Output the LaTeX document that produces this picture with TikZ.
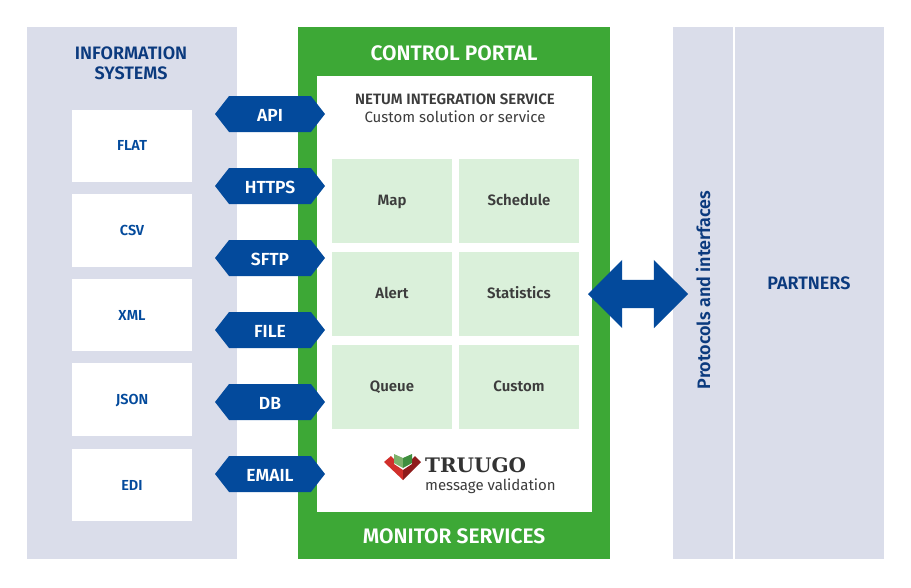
\documentclass[tikz,border=0pt]{standalone}
\usepackage{fontspec}
\setmainfont{Fira Sans}[BoldFont={Fira Sans SemiBold}]
\newfontfamily\logofont{DejaVu Serif}
\usetikzlibrary{shapes.symbols,shapes.arrows}
\definecolor{panelgray}{HTML}{DADDEA}
\definecolor{portalgreen}{HTML}{3DA836}
\definecolor{cellgreen}{HTML}{DAF0DA}
\definecolor{tagblue}{HTML}{034A9C}
\definecolor{titleblue}{HTML}{0B3A7E}
\definecolor{celltext}{HTML}{3C3C3C}
\definecolor{logored}{HTML}{D12F2B}
\definecolor{logodark}{HTML}{8F1C1C}
\definecolor{pagelight}{HTML}{7DB26B}
\definecolor{pagedark}{HTML}{3F8F3F}
\tikzset{
    panel/.style={fill=panelgray,anchor=north west,inner sep=0},
    filebox/.style={fill=white,minimum width=120pt,inner sep=0,text=tagblue,text height=10pt,text depth=0pt,
        font=\fontsize{14.5}{16}\selectfont\bfseries},
    cell/.style={fill=cellgreen,minimum width=120pt,minimum height=84pt,inner sep=0,text=celltext,
        text height=9pt,text depth=0pt,font=\fontsize{15}{17}\selectfont\bfseries},
    tag/.style={signal,signal to=east and west,signal pointer angle=104,fill=tagblue,text=white,
        minimum width=110pt,minimum height=36pt,inner sep=0,text height=14pt,text depth=0pt,
        font=\fontsize{17.5}{20}\selectfont\bfseries},
    titletext/.style={text=titleblue,font=\fontsize{18}{21}\selectfont\bfseries,align=center},
    portaltext/.style={text=white,font=\fontsize{21}{24}\selectfont\bfseries}
}
\begin{document}
\begin{tikzpicture}[x=1pt,y=-1pt]
    \useasboundingbox (0,0) rectangle (911,587);

    % left column
    \node[panel,minimum width=210pt,minimum height=532pt] (systems) at (27,27) {};
    \node[titletext] (systemstitle) at (131,63) {INFORMATION\\[-1pt]SYSTEMS};
    \node[filebox,minimum height=72pt] (flat) at (132,145.5) {FLAT};
    \node[filebox,minimum height=73pt] (csv) at (132,230.5) {CSV};
    \node[filebox,minimum height=72pt] (xml) at (132,315) {XML};
    \node[filebox,minimum height=73pt] (json) at (132,399.5) {JSON};
    \node[filebox,minimum height=72pt] (edi) at (132,485) {EDI};

    % portal
    \node[panel,fill=portalgreen,minimum width=312pt,minimum height=532pt] (portal) at (298,27) {};
    \node[panel,fill=white,minimum width=275pt,minimum height=436pt] (inner) at (317,76) {};
    \node[portaltext] (portaltitle) at (454,53) {CONTROL PORTAL};
    \node[portaltext] (monitor) at (454,536) {MONITOR SERVICES};
    \node[text=celltext,font=\fontsize{15}{17}\selectfont\bfseries] (netum) at (455,99) {NETUM INTEGRATION SERVICE};
    \node[text=celltext,font=\fontsize{15}{18}\selectfont] (custom) at (455,116.5) {Custom solution or service};

    % cells
    \node[cell] (map) at (392,201) {Map};
    \node[cell] (schedule) at (519,201) {Schedule};
    \node[cell] (alert) at (392,294) {Alert};
    \node[cell] (statistics) at (519,294) {Statistics};
    \node[cell] (queue) at (392,387) {Queue};
    \node[cell] (customcell) at (519,387) {Custom};

    % tags
    \node[tag] (api) at (270,114) {API};
    \node[tag] (https) at (270,186) {HTTPS};
    \node[tag] (sftp) at (270,258) {SFTP};
    \node[tag] (file) at (270,330) {FILE};
    \node[tag] (db) at (270,402) {DB};
    \node[tag] (email) at (270,474) {EMAIL};

    % logo
    \fill[logored] (384,462) -- (391,456) -- (394,459) -- (394,464) -- (403,470) -- (403,480) -- cycle;
    \fill[logodark] (403,480) -- (403,470) -- (412,464) -- (412,459) -- (415,456) -- (421,462) -- cycle;
    \fill[pagelight] (394,454) -- (403,458) -- (403,468) -- (394,463) -- cycle;
    \fill[pagedark] (403,458) -- (412,454) -- (412,463) -- (403,468) -- cycle;
    \node[text=black!80,font=\fontsize{20}{24}\logofont\selectfont\bfseries,anchor=base west,inner sep=0] (truugo) at (425,472.7) {TRUUGO};
    \node[text=celltext,font=\fontsize{15}{18}\selectfont,anchor=west,inner sep=0] (validation) at (425,486) {message validation};

    % right column
    \node[panel,minimum width=60pt,minimum height=532pt] (protocols) at (673,27) {};
    \node[panel,minimum width=149pt,minimum height=532pt] (partners) at (735,27) {};
    \node[titletext,rotate=90] (protocolstext) at (703,290) {Protocols and interfaces};
    \node[titletext] (partnerstext) at (809,283) {PARTNERS};

    \node[double arrow,fill=tagblue,minimum width=68pt,minimum height=100pt,double arrow head extend=20pt,
        double arrow head indent=0pt,inner sep=0] (link) at (638,294) {\rule{0pt}{28pt}};
\end{tikzpicture}
\end{document}
